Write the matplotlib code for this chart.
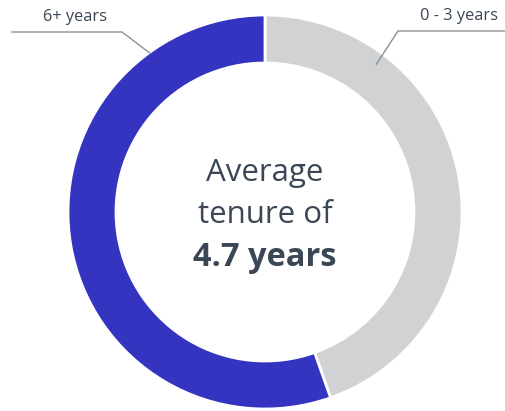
import matplotlib.pyplot as plt
import numpy as np

# tenure split (percent of staff)
labels = ["0 - 3 years", "6+ years"]
shares = [44.6, 55.4]
colors = ["#d0d2d4", "#3434c0"]
center_lines = ["Average", "tenure of", "4.7 years"]

W, H = 505, 411
CX, CY = 265, 199
R, RING = 197, 48
TEXT = "#3b4656"
LEADER = "#8c9196"
FONT = "Open Sans"

fig = plt.figure(figsize=(W / 100, H / 100), dpi=100)
ax = fig.add_axes([0, 0, 1, 1])

ax.pie(shares, colors=colors, startangle=90, counterclock=False,
       center=(CX, CY), radius=R, frame=True,
       wedgeprops=dict(width=RING, edgecolor="white", linewidth=2))

ax.set_xlim(0, W)
ax.set_ylim(0, H)
ax.set_aspect("equal")
ax.axis("off")


def ring_point(deg_from_top, r):
    a = np.radians(90 - deg_from_top)
    return CX + r * np.cos(a), CY + r * np.sin(a)


# leader lines from the ring out to the labels
x0, y0 = ring_point(37, 185)
ax.plot([x0, 398, W], [y0, 380, 380], color=LEADER, lw=1)
ax.text(459, 395, labels[0], ha="center", va="center", fontsize=11.8,
        color=TEXT, family=FONT)

x1, y1 = ring_point(-36, 197)
ax.plot([x1, 122, 12], [y1, 379, 379], color=LEADER, lw=1)
ax.text(75, 394, labels[1], ha="center", va="center", fontsize=11.8,
        color=TEXT, family=FONT)

# centre text
ax.text(CX, 238, center_lines[0], ha="center", va="center", fontsize=22.5,
        color=TEXT, family=FONT)
ax.text(CX, 196, center_lines[1], ha="center", va="center", fontsize=22.5,
        color=TEXT, family=FONT)
ax.text(CX, 153, center_lines[2], ha="center", va="center", fontsize=23.5,
        color=TEXT, family=FONT, fontweight="bold")

fig.savefig("out.png", dpi=100, facecolor="white")
